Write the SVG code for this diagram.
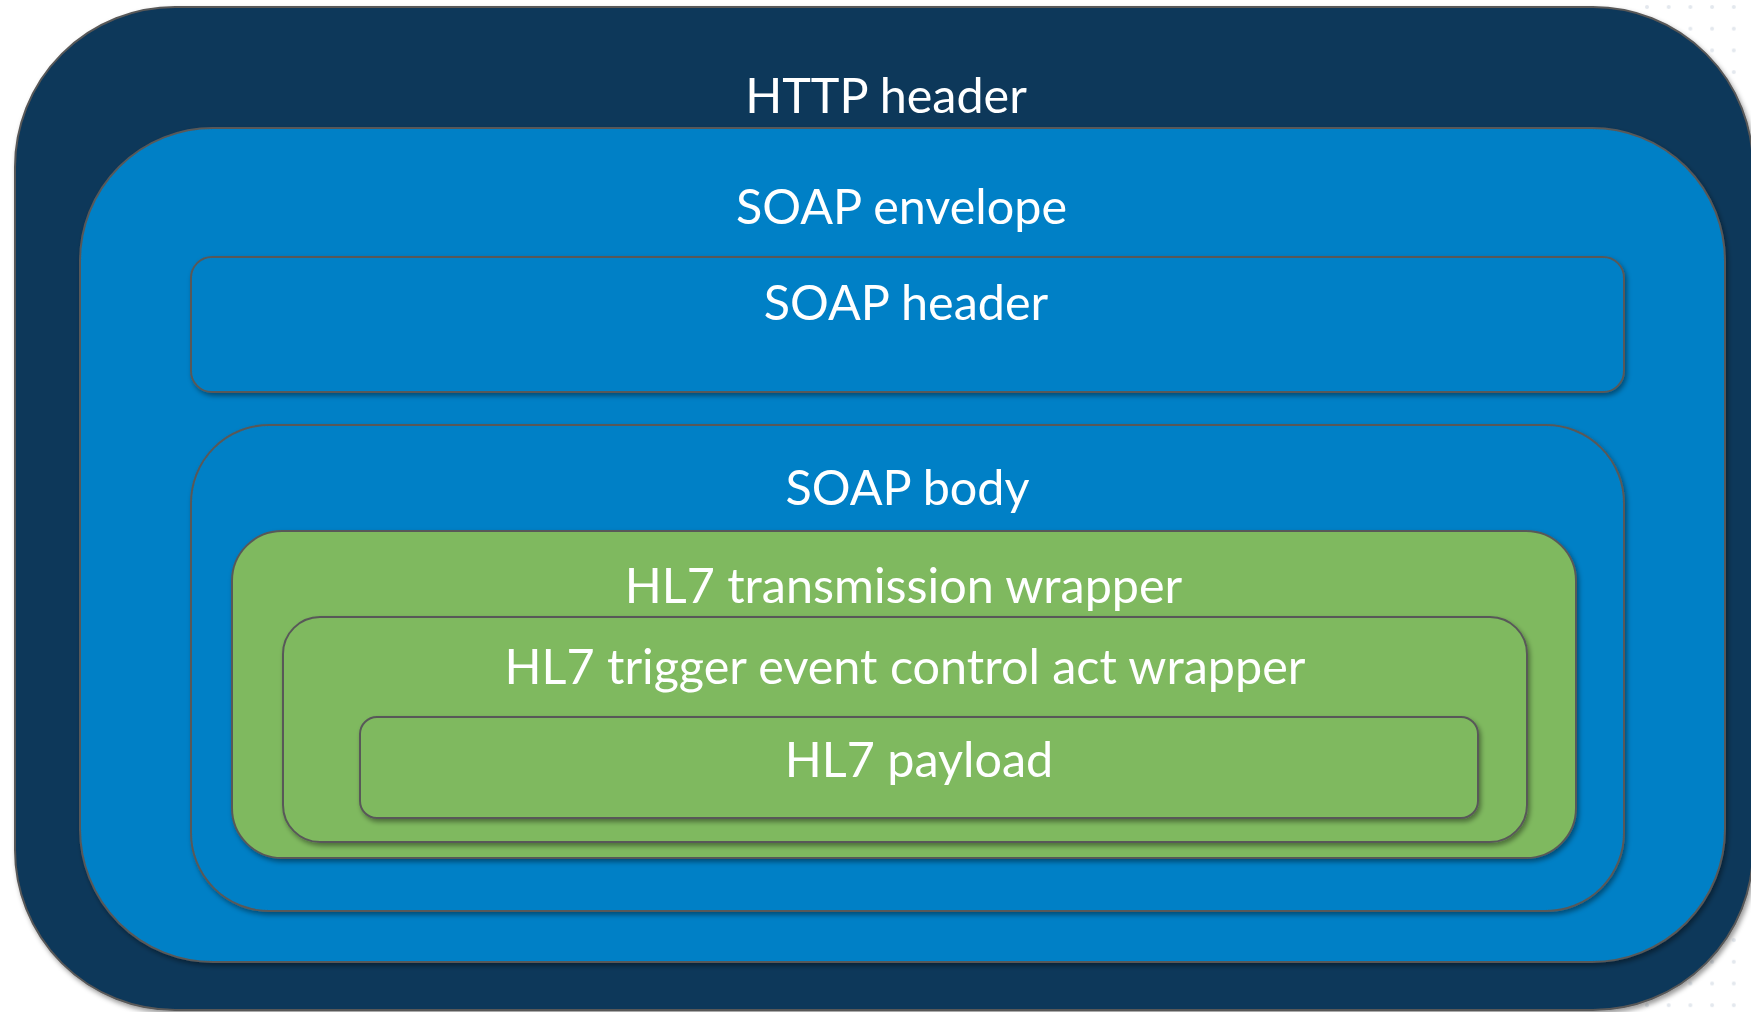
<svg xmlns="http://www.w3.org/2000/svg" width="1751" height="1012" viewBox="0 0 1751 1012">
  <defs>
    <pattern id="dots" patternUnits="userSpaceOnUse" x="1636.15" y="-3.85" width="21.7" height="21.7">
      <circle cx="10.85" cy="10.85" r="2" fill="#e3e8ee"/>
    </pattern>
    <filter id="shadow" x="-5%" y="-5%" width="110%" height="115%">
      <feDropShadow dx="2" dy="3" stdDeviation="2.5" flood-color="#000" flood-opacity="0.4"/>
    </filter>
  </defs>
  <style>
    .box { stroke: #595959; stroke-width: 2; filter: url(#shadow); }
    .navy { fill: #0F375A; }
    .blue { fill: #0080C6; }
    .green { fill: #7FB95F; }
    .label { font-family: Lato, "Liberation Sans", sans-serif; font-size: 48.5px; fill: #ffffff; text-anchor: middle; }
  </style>
  <rect x="0" y="0" width="1751" height="1012" fill="#ffffff"/>
  <rect x="1636" y="0" width="115" height="1012" fill="url(#dots)"/>

  <g id="http-header">
    <rect class="box navy" x="15" y="7" width="1738" height="1003" rx="160" ry="160"/>
    <text class="label" x="886" y="113">HTTP header</text>
  </g>
  <g id="soap-envelope">
    <rect class="box blue" x="80" y="128" width="1645" height="834" rx="133" ry="133"/>
    <text class="label" x="901.5" y="224">SOAP envelope</text>
  </g>
  <g id="soap-header">
    <rect class="box blue" x="191" y="257" width="1433" height="135" rx="21" ry="21"/>
    <text class="label" x="906" y="320">SOAP header</text>
  </g>
  <g id="soap-body">
    <rect class="box blue" x="191" y="425" width="1433" height="486" rx="78" ry="78"/>
    <text class="label" x="907.5" y="505">SOAP body</text>
  </g>
  <g id="hl7-transmission-wrapper">
    <rect class="box green" x="232" y="531" width="1344" height="327" rx="50" ry="50"/>
    <text class="label" x="903.5" y="603">HL7 transmission wrapper</text>
  </g>
  <g id="hl7-trigger-event-control-act-wrapper">
    <rect class="box green" x="283" y="617" width="1244" height="225" rx="37" ry="37"/>
    <text class="label" x="905" y="684">HL7 trigger event control act wrapper</text>
  </g>
  <g id="hl7-payload">
    <rect class="box green" x="360" y="717" width="1118" height="101" rx="17" ry="17"/>
    <text class="label" x="919" y="777">HL7 payload</text>
  </g>
  <g id="connectors"/>
</svg>
